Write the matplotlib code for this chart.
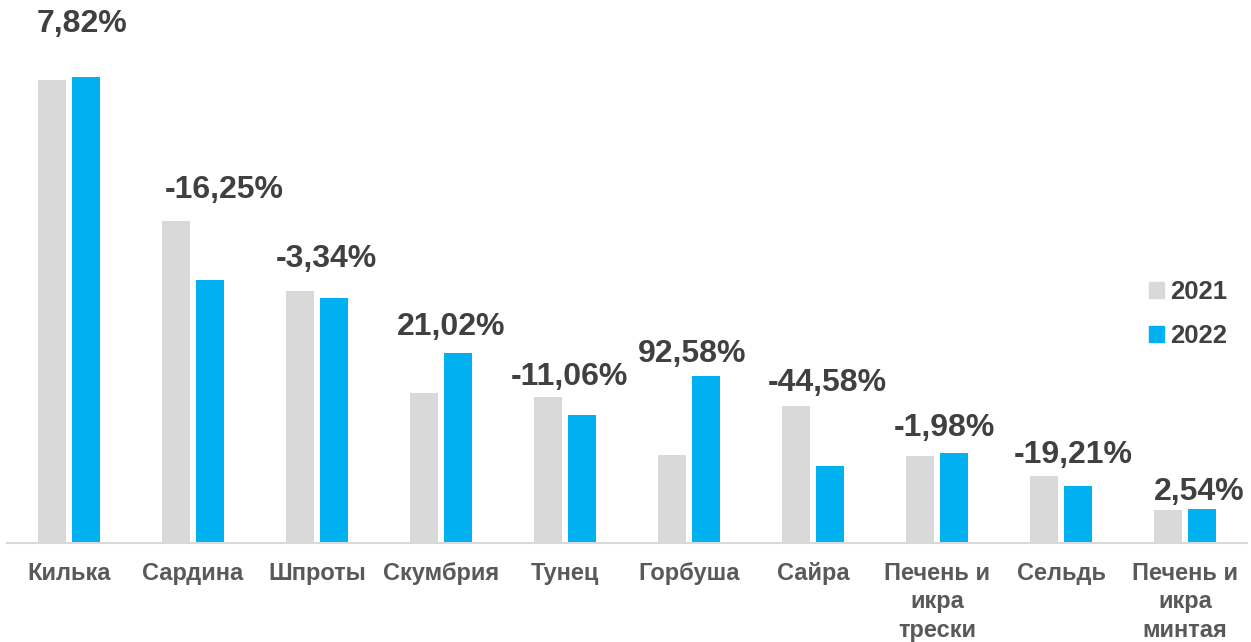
import numpy as np
import matplotlib
matplotlib.use("Agg")
import matplotlib.pyplot as plt
from matplotlib.patches import Patch

plt.rcParams['font.family'] = ['Liberation Sans', 'DejaVu Sans']

# data (bar heights in relative units)
categories = ['Килька', 'Сардина', 'Шпроты', 'Скумбрия', 'Тунец', 'Горбуша',
              'Сайра', 'Печень и\nикра\nтрески', 'Сельдь', 'Печень и\nикра\nминтая']
vals_2021 = [463, 322, 252, 150, 146, 88, 137, 87, 67, 33]
vals_2022 = [466, 263, 245, 190, 128, 167, 77, 90, 57, 34]
change_labels = ['7,82%', '-16,25%', '-3,34%', '21,02%', '-11,06%', '92,58%',
                 '-44,58%', '-1,98%', '-19,21%', '2,54%']
# where the change labels sit (baseline, same units as bars) and their shift right
label_pos = [511, 345, 276, 208, 158, 181, 152, 107, 80, 43]
label_shift = [0.105, 0.254, 0.077, 0.085, 0.036, 0.028, 0.117, 0.06, 0.1, 0.117]

c21 = '#D9D9D9'
c22 = '#00B0F0'
txt = '#404040'

fig = plt.figure(figsize=(12.51, 6.42), dpi=100)
ax = fig.add_axes([7/1251, 1-543/642, 1240/1251, 543/642])

x = np.arange(len(categories))
w = 0.226
off = 0.141
ax.bar(x - off, vals_2021, w, color=c21, label='2021')
ax.bar(x + off, vals_2022, w, color=c22, label='2022')

for i in range(len(x)):
    ax.text(x[i] + label_shift[i], label_pos[i], change_labels[i], ha='center', va='baseline',
            fontsize=23, fontweight='bold', color=txt)

ax.set_xlim(-0.5, len(x) - 0.5)
ax.set_ylim(0, 543)
for s in ['top', 'right', 'left']:
    ax.spines[s].set_visible(False)
ax.spines['bottom'].set_color('#D9D9D9')
ax.spines['bottom'].set_linewidth(1.5)
ax.set_yticks([])
ax.set_xticks(x)
ax.set_xticklabels(categories, fontsize=17, fontweight='bold', color='#595959',
                   linespacing=1.28)
ax.tick_params(axis='x', length=0, pad=14)

handles = [Patch(color=c21, label='2021'), Patch(color=c22, label='2022')]
leg = ax.legend(handles=handles, loc='upper left', bbox_to_anchor=(0.921, 0.485),
                frameon=False, borderpad=0, borderaxespad=0,
                handlelength=0.58, handleheight=0.58, handletextpad=0.23,
                labelspacing=0.78, prop={'size': 18.5, 'weight': 'bold'})
for t in leg.get_texts():
    t.set_color(txt)

fig.savefig('out.png', dpi=100)
